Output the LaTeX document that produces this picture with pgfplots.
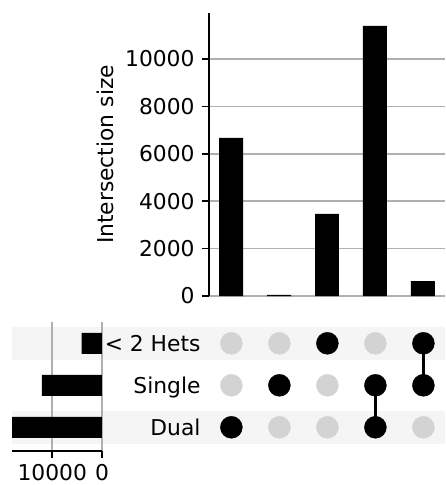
\documentclass[border=0pt]{standalone}
\usepackage{fontspec}
\setmainfont{DejaVu Sans}
\usepackage{pgfplots}
\pgfplotsset{compat=1.18}
\definecolor{gridc}{HTML}{B0B0B0}
\definecolor{band}{HTML}{F5F5F5}
\definecolor{dotgray}{HTML}{D3D3D3}
\newcommand\fs{\fontsize{21.8pt}{26pt}\selectfont}
\begin{document}
\begin{tikzpicture}[x=1pt,y=1pt]
\path[use as bounding box] (0,0) rectangle (445,-485);

% intersection size bars
\begin{axis}[
  at={(209pt,-296pt)}, anchor=south west, scale only axis,
  width=236pt, height=283pt,
  xmin=-0.46, xmax=4.46, ymin=0, ymax=11940,
  axis x line=none, axis y line*=left,
  y axis line style={-, line width=1.67pt, black},
  xtick=\empty, ytick={0,2000,4000,6000,8000,10000},
  scaled y ticks=false,
  ymajorgrids, grid style={gridc, line width=1.67pt},
  tick align=outside, major tick length=7.3pt,
  tick style={black, line width=1.67pt},
  /pgf/number format/assume math mode=true,
  /pgf/number format/1000 sep={},
  yticklabel style={font=\fs, inner sep=0pt, xshift=-7pt},
  ylabel={Intersection size},
  ylabel style={font=\fs, at={(rel axis cs:-0.4407,0.5)}, anchor=center},
]
\addplot[ybar, fill=black, draw=none, bar width=0.5]
  coordinates {(0,6667) (1,50) (2,3460) (3,11392) (4,633)};
\end{axis}

% matrix
\begin{axis}[
  at={(12pt,-448.3pt)}, anchor=south west, scale only axis,
  width=433pt, height=126pt,
  xmin=-4.57, xmax=4.45, ymin=-0.5, ymax=2.5,
  hide axis, clip=false,
]
\addplot[fill=band, draw=none] coordinates {(-4.57,1.6) (4.45,1.6) (4.45,2.4) (-4.57,2.4)} -- cycle;
\addplot[fill=band, draw=none] coordinates {(-4.57,-0.4) (4.45,-0.4) (4.45,0.4) (-4.57,0.4)} -- cycle;
\addplot[only marks, mark=*, mark size=11pt, color=dotgray]
  coordinates {(0,1) (0,2) (1,0) (1,2) (2,0) (2,1) (3,2) (4,0)};
\addplot[black, line width=3.5pt] coordinates {(3,0) (3,1)};
\addplot[black, line width=3.5pt] coordinates {(4,1) (4,2)};
\addplot[only marks, mark=*, mark size=11pt, color=black]
  coordinates {(0,0) (1,1) (2,2) (3,0) (3,1) (4,1) (4,2)};
\node[anchor=base east, font=\fs, inner sep=0pt, yshift=-8pt] at (axis cs:-0.64,2) {< 2 Hets};
\node[anchor=base east, font=\fs, inner sep=0pt, yshift=-8pt] at (axis cs:-0.64,1) {Single};
\node[anchor=base east, font=\fs, inner sep=0pt, yshift=-8pt] at (axis cs:-0.64,0) {Dual};
\end{axis}

% totals
\begin{axis}[
  at={(12pt,-450.7pt)}, anchor=south west, scale only axis,
  width=90pt, height=129pt,
  xmin=0, xmax=18100, x dir=reverse, ymin=-0.557, ymax=2.514,
  axis x line*=bottom, axis y line=none,
  x axis line style={-, line width=1.67pt, black},
  xtick={0,10000}, ytick=\empty, scaled x ticks=false,
  xmajorgrids, grid style={gridc, line width=1.67pt},
  tick align=outside, major tick length=7.3pt,
  tick style={black, line width=1.67pt},
  /pgf/number format/assume math mode=true,
  /pgf/number format/1000 sep={},
  xticklabel style={font=\fs, inner sep=0pt, yshift=-6pt},
]
\addplot[xbar, fill=black, draw=none, bar width=0.5]
  coordinates {(4093,2) (12075,1) (18059,0)};
\end{axis}
\end{tikzpicture}
\end{document}
